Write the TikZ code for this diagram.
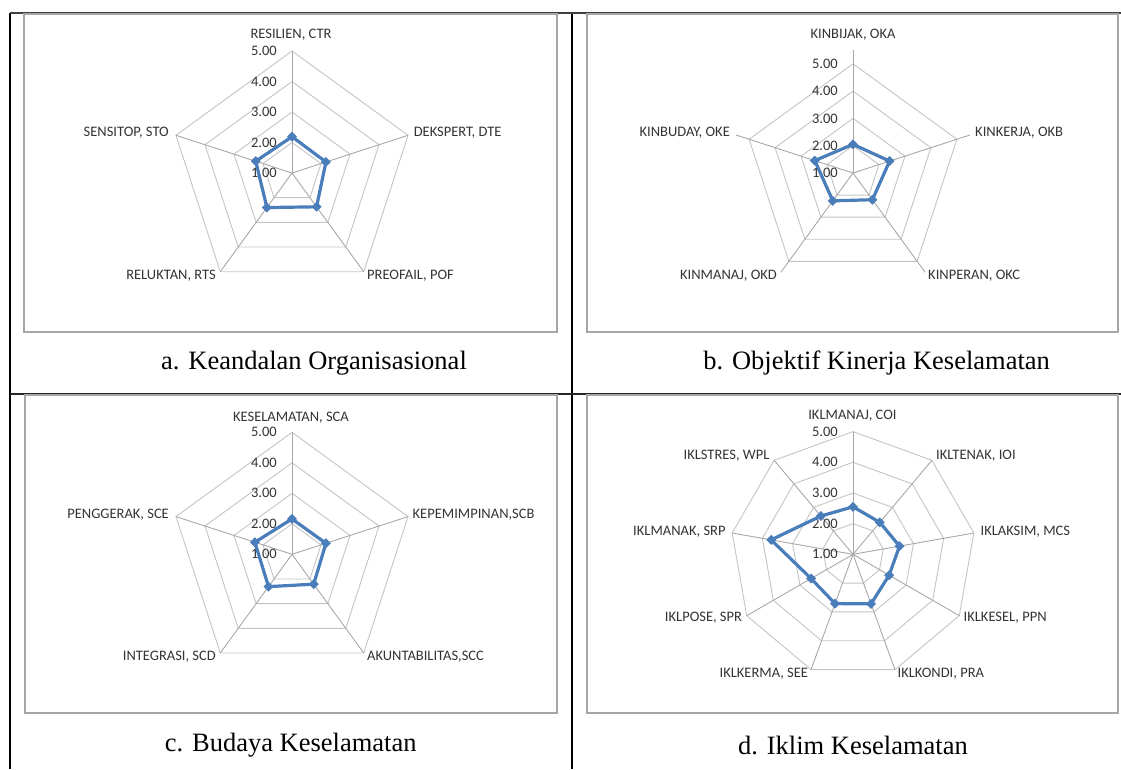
\documentclass[tikz,border=0pt]{standalone}
\usepackage{fontspec}
\setmainfont{Liberation Serif}
\newfontfamily\xlfont{Carlito}
\usetikzlibrary{positioning}
\definecolor{rdblue}{HTML}{4A7EBB}
\definecolor{rdgrid}{HTML}{C4C4C4}
\definecolor{rdaxisc}{HTML}{A8A8A8}
\definecolor{frgray}{HTML}{A6A6A6}
\definecolor{rdtext}{HTML}{333333}

\tikzset{
  rdring/.style={rdgrid,line width=0.9pt},
  rdaxis/.style={rdaxisc,line width=0.9pt},
  rdseries/.style={rdblue,line width=3.2pt,line join=round},
  rdlabel/.style={font=\xlfont\fontsize{14.5}{16}\selectfont,text=rdtext,inner sep=0pt},
  rdtick/.style={rdlabel,anchor=east},
  rdcaption/.style={font=\fontsize{26.5}{30}\selectfont,inner sep=0pt},
  chartbox/.style={draw=frgray,line width=1.5pt},
  tablerule/.style={black,line width=2pt},
}

\begin{document}
\begin{tikzpicture}[x=1pt,y=-1pt]
  \useasboundingbox (0,0) rectangle (1121,769);
  % table rules
  \draw[tablerule] (10,13) -- (10,769);
  \draw[tablerule] (572,13) -- (572,769);
  \draw[black!75,line width=1.6pt] (10,13) -- (1121,13);
  \draw[black!85,line width=1.6pt] (10,394) -- (1121,394);
  % chart boxes
  \draw[chartbox] (24,14) rectangle (557,332);
  \draw[chartbox] (587,14) rectangle (1118,332);
  \draw[chartbox] (25,395) rectangle (557,713);
  \draw[chartbox] (587,395) rectangle (1118,713);

  % a. Keandalan Organisasional
  \begin{scope}[shift={(292,173)}]
    \foreach \r in {30.5,61,91.5,122}
      \draw[rdring] (0,-\r) foreach \a in {72,144,...,288}{ -- ({\r*sin(\a)},{-\r*cos(\a)})} -- cycle;
    \foreach \a in {0,72,...,288}
      \draw[rdaxis] (0,0) -- ({122*sin(\a)},{-122*cos(\a)});
    \foreach \t [count=\k from 0] in {1.00,2.00,3.00,4.00,5.00}
      \node[rdtick] at (-15,{-30.5*\k}) {\t};
    \foreach \a/\v [count=\i] in {0/2.19,72/2.17,144/2.37,216/2.40,288/2.25}
      \coordinate (a\i) at ({30.5*(\v-1)*sin(\a)},{-30.5*(\v-1)*cos(\a)});
    \draw[rdseries] (a1) -- (a2) -- (a3) -- (a4) -- (a5) -- cycle;
    \foreach \i in {1,...,5}
      \fill[rdblue] (a\i) +(0,-5) -- +(5,0) -- +(0,5) -- +(-5,0) -- cycle;
  \end{scope}
  \node[rdlabel] (ctr) at (291,35) {RESILIEN, CTR};
  \node[rdlabel,anchor=west] (dte) at (413.6,133) {DEKSPERT, DTE};
  \node[rdlabel,anchor=west] (pof) at (367,276) {PREOFAIL, POF};
  \node[rdlabel,anchor=east] (rts) at (216,276) {RELUKTAN, RTS};
  \node[rdlabel,anchor=east] (sto) at (169,133) {SENSITOP, STO};
  \node[rdcaption] (capa) at (314,363) {a. Keandalan Organisasional};

  % b. Objektif Kinerja Keselamatan
  \begin{scope}[shift={(853,173)}]
    \foreach \r in {27.3,54.6,81.9,109.2}
      \draw[rdring] (0,-\r) foreach \a in {72,144,...,288}{ -- ({\r*sin(\a)},{-\r*cos(\a)})} -- cycle;
    \foreach \a in {0,72,...,288}
      \draw[rdaxis] (0,0) -- ({122.8*sin(\a)},{-122.8*cos(\a)});
    \foreach \t [count=\k from 0] in {1.00,2.00,3.00,4.00,5.00}
      \node[rdtick] at (-15,{-27.3*\k}) {\t};
    \foreach \a/\v [count=\i] in {0/2.05,72/2.41,144/2.21,216/2.26,288/2.47}
      \coordinate (b\i) at ({27.3*(\v-1)*sin(\a)},{-27.3*(\v-1)*cos(\a)});
    \draw[rdseries] (b1) -- (b2) -- (b3) -- (b4) -- (b5) -- cycle;
    \foreach \i in {1,...,5}
      \fill[rdblue] (b\i) +(0,-5) -- +(5,0) -- +(0,5) -- +(-5,0) -- cycle;
  \end{scope}
  \node[rdlabel] (oka) at (853,35) {KINBIJAK, OKA};
  \node[rdlabel,anchor=west] (okb) at (975,133) {KINKERJA, OKB};
  \node[rdlabel,anchor=west] (okc) at (928,276) {KINPERAN, OKC};
  \node[rdlabel,anchor=east] (okd) at (777,276) {KINMANAJ, OKD};
  \node[rdlabel,anchor=east] (oke) at (730,133) {KINBUDAY, OKE};
  \node[rdcaption] (capb) at (876.6,363) {b. Objektif Kinerja Keselamatan};

  % c. Budaya Keselamatan
  \begin{scope}[shift={(292,554.3)}]
    \foreach \r in {30.5,61,91.5,122}
      \draw[rdring] (0,-\r) foreach \a in {72,144,...,288}{ -- ({\r*sin(\a)},{-\r*cos(\a)})} -- cycle;
    \foreach \a in {0,72,...,288}
      \draw[rdaxis] (0,0) -- ({122*sin(\a)},{-122*cos(\a)});
    \foreach \t [count=\k from 0] in {1.00,2.00,3.00,4.00,5.00}
      \node[rdtick] at (-15,{-30.5*\k}) {\t};
    \foreach \a/\v [count=\i] in {0/2.16,72/2.17,144/2.21,216/2.31,288/2.28}
      \coordinate (c\i) at ({30.5*(\v-1)*sin(\a)},{-30.5*(\v-1)*cos(\a)});
    \draw[rdseries] (c1) -- (c2) -- (c3) -- (c4) -- (c5) -- cycle;
    \foreach \i in {1,...,5}
      \fill[rdblue] (c\i) +(0,-5) -- +(5,0) -- +(0,5) -- +(-5,0) -- cycle;
  \end{scope}
  \node[rdlabel] (sca) at (291,417.3) {KESELAMATAN, SCA};
  \node[rdlabel,anchor=west] (scb) at (412.5,515) {KEPEMIMPINAN,SCB};
  \node[rdlabel,anchor=west] (scc) at (367,656.7) {AKUNTABILITAS,SCC};
  \node[rdlabel,anchor=east] (scd) at (216,656.7) {INTEGRASI, SCD};
  \node[rdlabel,anchor=east] (sce) at (169,515) {PENGGERAK, SCE};
  \node[rdcaption] (capc) at (290.7,745) {c. Budaya Keselamatan};

  % d. Iklim Keselamatan
  \begin{scope}[shift={(853,554.3)}]
    \foreach \r in {30.67,61.33,92,122.7}
      \draw[rdring] (0,-\r) foreach \a in {40,80,...,320}{ -- ({\r*sin(\a)},{-\r*cos(\a)})} -- cycle;
    \foreach \a in {0,40,...,320}
      \draw[rdaxis] (0,0) -- ({122.7*sin(\a)},{-122.7*cos(\a)});
    \foreach \t [count=\k from 0] in {1.00,2.00,3.00,4.00,5.00}
      \node[rdtick] at (-15,{-30.67*\k}) {\t};
    \foreach \a/\v [count=\i] in {0/2.55,40/2.36,80/2.54,120/2.36,160/2.72,200/2.71,240/2.58,280/3.71,320/2.63}
      \coordinate (d\i) at ({30.67*(\v-1)*sin(\a)},{-30.67*(\v-1)*cos(\a)});
    \draw[rdseries] (d1) -- (d2) -- (d3) -- (d4) -- (d5) -- (d6) -- (d7) -- (d8) -- (d9) -- cycle;
    \foreach \i in {1,...,9}
      \fill[rdblue] (d\i) +(0,-5) -- +(5,0) -- +(0,5) -- +(-5,0) -- cycle;
  \end{scope}
  \node[rdlabel] (coi) at (852.4,416) {IKLMANAJ, COI};
  \node[rdlabel,anchor=west] (ioi) at (936,456) {IKLTENAK, IOI};
  \node[rdlabel,anchor=west] (mcs) at (980.4,531.7) {IKLAKSIM, MCS};
  \node[rdlabel,anchor=west] (ppn) at (963.5,617.7) {IKLKESEL, PPN};
  \node[rdlabel,anchor=west] (pra) at (897.5,673.3) {IKLKONDI, PRA};
  \node[rdlabel,anchor=east] (see) at (808.2,673.3) {IKLKERMA, SEE};
  \node[rdlabel,anchor=east] (spr) at (742.2,617.7) {IKLPOSE, SPR};
  \node[rdlabel,anchor=east] (srp) at (725.7,531.7) {IKLMANAK, SRP};
  \node[rdlabel,anchor=east] (wpl) at (769.6,456) {IKLSTRES, WPL};
  \node[rdcaption] (capd) at (853,745) {d. Iklim Keselamatan};
\end{tikzpicture}
\end{document}
